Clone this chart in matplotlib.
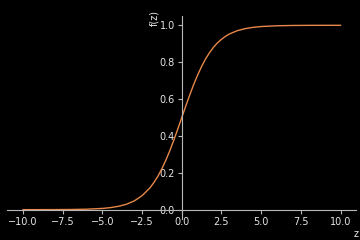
import matplotlib
matplotlib.use("Agg")
import matplotlib.pyplot as plt

# valores
z = [-10.0, -9.0, -8.0, -7.0, -6.0, -5.0, -4.5, -4.0, -3.5, -3.0, -2.5,
     -2.0, -1.75, -1.5, -1.25, -1.0, -0.75, -0.5, -0.25, 0.0, 0.25, 0.5,
     0.75, 1.0, 1.25, 1.5, 1.75, 2.0, 2.25, 2.5, 2.75, 3.0, 3.5, 4.0, 4.5,
     5.0, 6.0, 7.0, 8.0, 9.0, 10.0]
fz = [0.00005, 0.0001, 0.0003, 0.0009, 0.0025, 0.0067, 0.011, 0.018, 0.029,
      0.047, 0.076, 0.119, 0.148, 0.182, 0.223, 0.269, 0.321, 0.378, 0.438,
      0.5, 0.562, 0.622, 0.679, 0.731, 0.777, 0.818, 0.852, 0.881, 0.905,
      0.924, 0.940, 0.953, 0.971, 0.982, 0.989, 0.9933, 0.9975, 0.9991,
      0.9997, 0.9999, 0.99995]

xticks = [-10.0, -7.5, -5.0, -2.5, 0.0, 2.5, 5.0, 7.5, 10.0]
yticks = [0.0, 0.2, 0.4, 0.6, 0.8, 1.0]

plt.rcParams['font.size'] = 7
fig = plt.figure(figsize=(3.6, 2.4), dpi=100, facecolor='black')
ax = fig.add_axes([0.02, 0.088, 0.97, 0.845], facecolor='black')

ax.plot(z, fz, color='#e8884a', linewidth=1.0)

ax.set_xlim(-11, 11)
ax.set_ylim(-0.05, 1.05)
ax.set_xticks(xticks)
ax.set_yticks(yticks)

ax.spines['left'].set_position(('data', 0))
ax.spines['bottom'].set_position(('data', 0))
ax.spines['right'].set_visible(False)
ax.spines['top'].set_visible(False)
for s in ['left', 'bottom']:
    ax.spines[s].set_color('#b8b8b8')
ax.tick_params(colors='#b8b8b8', labelcolor='#e6e6e6', length=3, width=0.8, pad=2)

ax.set_xlabel('z', color='#e6e6e6', fontsize=7)
ax.xaxis.set_label_coords(1.0, -0.05)
ax.set_ylabel('f(z)', color='#e6e6e6', fontsize=7)
ax.yaxis.set_label_coords(0.435, 0.99)

fig.savefig('out.png', dpi=100, facecolor='black')
